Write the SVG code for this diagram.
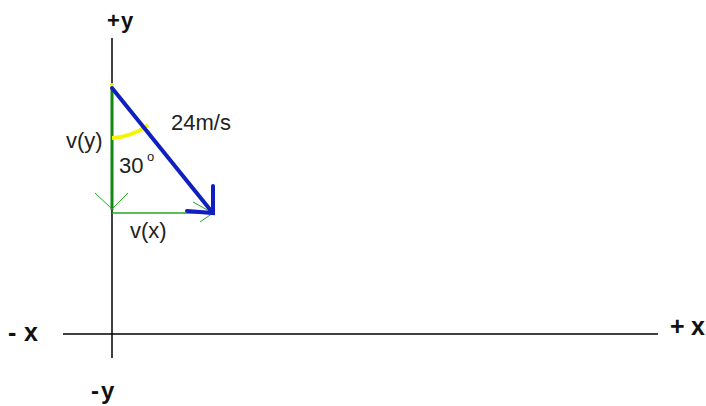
<svg xmlns="http://www.w3.org/2000/svg" width="706" height="406" viewBox="0 0 706 406">
<style>
text{font-family:"Liberation Sans",Arial,sans-serif;font-size:22px;fill:#222}
.axl{font-weight:bold;fill:#111}
.ax{stroke:#000;stroke-width:1.5;fill:none}
.g{stroke:#22aa22;fill:none}
</style>
<rect width="706" height="406" fill="#fff"/>
<g id="axes">
<line class="ax" x1="112" y1="38" x2="112" y2="358"/>
<line class="ax" x1="63" y1="334" x2="658" y2="334"/>
<text class="axl" y="28"><tspan x="107">+</tspan><tspan x="121">y</tspan></text>
<text class="axl" y="399" style="font-size:24px"><tspan x="91">-</tspan><tspan x="101">y</tspan></text>
<text class="axl" y="341" style="font-size:25px"><tspan x="8">-</tspan><tspan x="24">x</tspan></text>
<text class="axl" y="335" style="font-size:25px"><tspan x="670">+</tspan><tspan x="691">x</tspan></text>
</g>
<g id="connectors">
<line class="g" x1="112" y1="88" x2="112" y2="210" style="stroke:#118811;stroke-width:3"/>
<polyline class="g" points="95,193 112,209 128,193" stroke-width="1"/>
<line class="g" x1="112" y1="213" x2="213" y2="213" stroke-width="1.5"/>
<polyline class="g" points="193,202 213,213 200,222" stroke-width="1"/>
<path d="M112,138 Q132,137 148,125" stroke="#f5f500" stroke-width="4" fill="none"/>
<circle cx="112" cy="85" r="2" fill="#f5f500"/>
<line x1="112" y1="88" x2="212" y2="212" stroke="#1020c0" stroke-width="4" stroke-linecap="round"/>
<path d="M213,186 L213,213 L187,211" stroke="#1020c0" stroke-width="4" fill="none" stroke-linecap="round"/>
</g>
<g id="labels">
<text x="171" y="130">24m/s</text>
<text x="66" y="148">v(y)</text>
<text x="119" y="173">30</text>
<text x="147" y="161" style="font-size:13px">o</text>
<text x="130" y="238">v(x)</text>
</g>
</svg>
